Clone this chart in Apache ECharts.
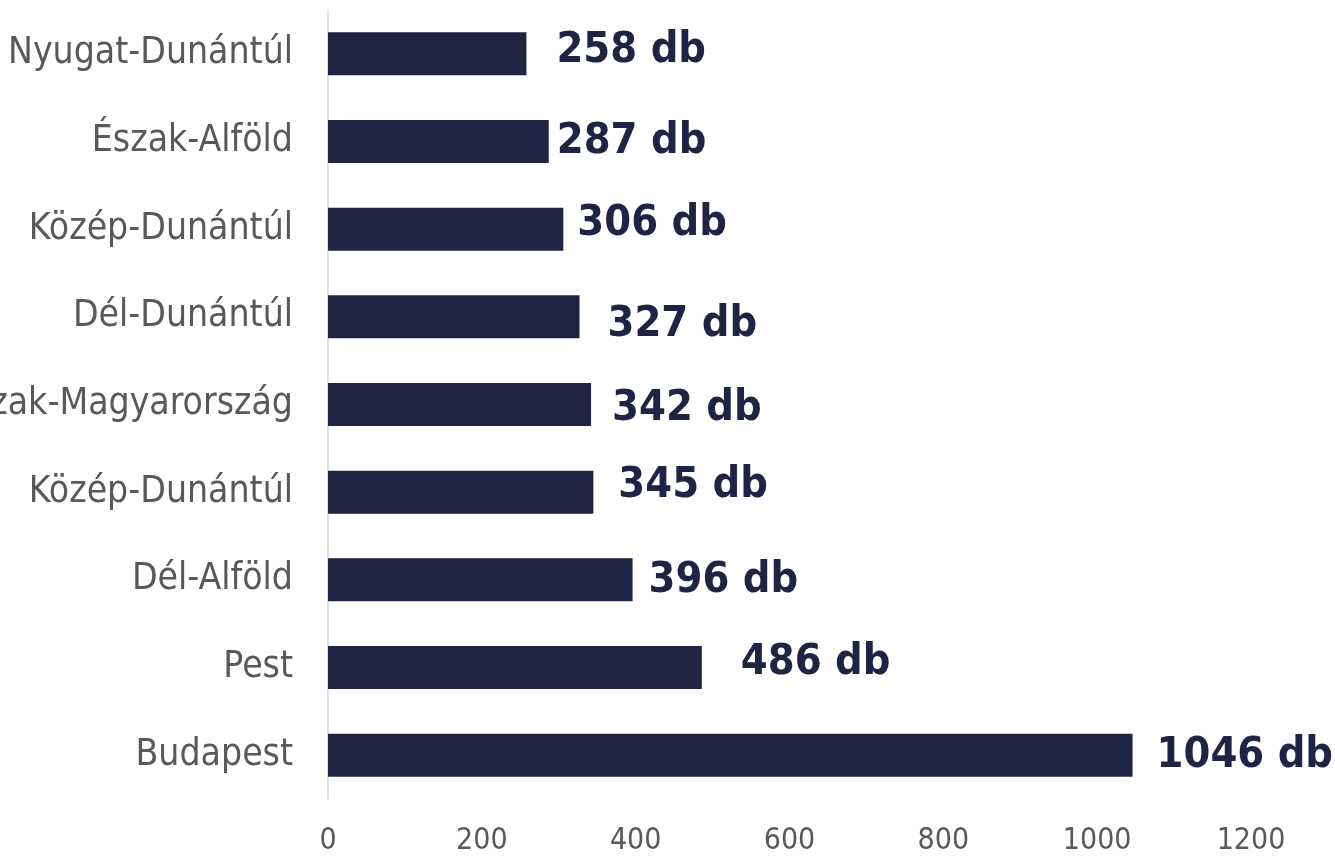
<!DOCTYPE html>
<html>
<head>
<meta charset="utf-8">
<script src="https://cdn.jsdelivr.net/npm/echarts@6/dist/echarts.min.js"></script>
<style>html,body{margin:0;padding:0;background:#fff;}#c{width:1335px;height:856px;}</style>
</head>
<body>
<div id="c"></div>
<script>
// categories, top to bottom
const categories = ["Nyugat-Dunántúl","Észak-Alföld","Közép-Dunántúl","Dél-Dunántúl","Észak-Magyarország","Közép-Dunántúl","Dél-Alföld","Pest","Budapest"];
const values = [258, 287, 306, 327, 342, 345, 396, 486, 1046];
const xTicks = [0, 200, 400, 600, 800, 1000, 1200];
const unit = " db";

// manual label nudges (styling only)
const labelNudge = [[22,-3],[0,0],[6,-5],[20,8],[13,4],[17,-6],[8,1],[31,-5],[16,1]];

const FONT = 'DejaVu Sans Condensed, DejaVu Sans';
const chart = echarts.init(document.getElementById('c'), null, {renderer:'canvas'});
chart.setOption({
  animation: false,
  backgroundColor: '#ffffff',
  grid: {left: 328, right: 84, top: 10, bottom: 57, containLabel: false, outerBoundsMode: 'none'},
  xAxis: {
    type: 'value', min: xTicks[0], max: xTicks[xTicks.length-1], interval: 200,
    axisLine: {show: false}, axisTick: {show: false}, splitLine: {show: false},
    axisLabel: {color: '#595959', fontSize: 30, fontFamily: FONT, margin: 27, formatter: v => String(v)}
  },
  yAxis: {
    type: 'category', data: categories, inverse: true,
    axisLine: {show: true, lineStyle: {color: '#d9d9d9', width: 1.5}},
    axisTick: {show: false},
    axisLabel: {color: '#595959', fontSize: 37, fontFamily: FONT, margin: 35}
  },
  series: [{
    type: 'bar',
    barWidth: 43,
    itemStyle: {color: '#1f2444'},
    data: values.map((v, i) => ({
      value: v,
      label: {offset: labelNudge[i]}
    })),
    label: {
      show: true, position: 'right', distance: 8,
      formatter: p => p.value + unit,
      color: '#1f2444', fontSize: 43, fontWeight: 'bold',
      fontFamily: FONT
    }
  }]
});
</script>
</body>
</html>
